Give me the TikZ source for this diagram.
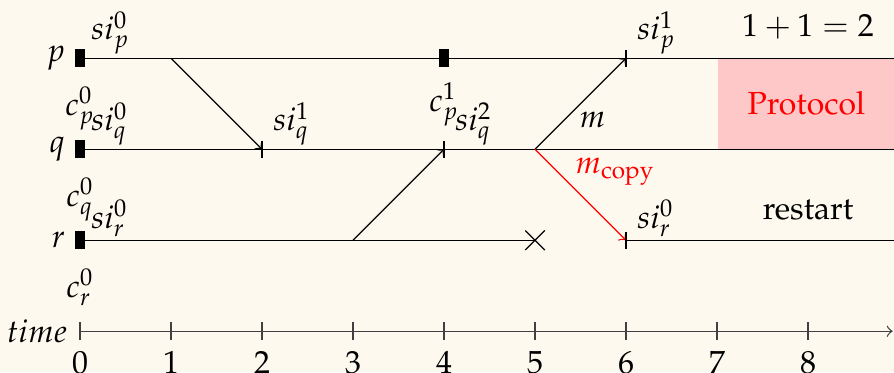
\documentclass[tikz,border=0pt]{standalone}
\usepackage[T1]{fontenc}
\usepackage{mathpazo}
\usetikzlibrary{positioning,calc,shapes.misc}
\definecolor{paper}{HTML}{FDF9EE}
\definecolor{protofill}{HTML}{FFC8C8}
\tikzset{
  ckpt/.style={rectangle,fill=black,inner sep=0pt,minimum width=0.11cm,minimum height=0.2cm},
  lbl/.style={inner sep=1pt},
  msg/.style={->,>=to},
  cpy/.style={->,>=to,red},
  tck/.style={line cap=butt},
  crash/.style={cross out,draw,inner sep=0pt,minimum size=0.2cm},
  proto/.style={rectangle,fill=protofill,text=red,inner sep=0pt,minimum width=1.95cm,minimum height=1cm,anchor=south west},
  axis/.style={black!75},
}

\begin{document}
\begin{tikzpicture}
  \fill[paper] (-0.88,-0.45) rectangle (8.945,3.64);
  \useasboundingbox (-0.88,-0.45) rectangle (8.945,3.64);

  % events on the three process lines
  \coordinate (p0) at (0,3); \coordinate (q0) at (0,2); \coordinate (r0) at (0,1);
  \coordinate (pE) at (8.95,3); \coordinate (qE) at (8.95,2); \coordinate (rE) at (8.95,1);
  \coordinate (p1) at (1,3); \coordinate (q2) at (2,2); \coordinate (r3) at (3,1);
  \coordinate (q4) at (4,2); \coordinate (q5) at (5,2); \coordinate (p6) at (6,3);
  \coordinate (r6) at (6,1);

  \node[proto] (prot) at (7,2) {Protocol};

  \draw (p0) -- (pE);
  \draw (q0) -- (qE);
  \node[crash] (crash) at (5,1) {};
  \draw (r0) -- (crash.center);
  \draw (r6) -- (rE);

  % checkpoints
  \node[ckpt] (ckp0) at (p0) {};
  \node[ckpt] (ckq0) at (q0) {};
  \node[ckpt] (ckr0) at (r0) {};
  \node[ckpt] (ckp1) at (4,3) {};

  \node[lbl,left=0.06cm of ckp0] (np) {$p$};
  \node[lbl,left=0.06cm of ckq0] (nq) {$q$};
  \node[lbl,left=0.06cm of ckr0] (nr) {$r$};

  \node[lbl,below=0.17cm of ckp0] (cp0) {$c_p^0$};
  \node[lbl,below=0.17cm of ckq0] (cq0) {$c_q^0$};
  \node[lbl,below=0.17cm of ckr0] (cr0) {$c_r^0$};
  \node[lbl,below=0.12cm of ckp1] (cp1) {$c_p^1$};

  \node[lbl,above right=0pt and 0.08cm of p0] (sp0) {$si_p^0$};
  \node[lbl,above right=0pt and 0.08cm of q0] (sq0) {$si_q^0$};
  \node[lbl,above right=0pt and 0.08cm of r0] (sr0) {$si_r^0$};
  \node[lbl,above right=0pt and 0.08cm of q2] (sq1) {$si_q^1$};
  \node[lbl,above right=0pt and 0.08cm of q4] (sq2) {$si_q^2$};
  \node[lbl,above right=0pt and 0.08cm of p6] (sp1) {$si_p^1$};
  \node[lbl,above right=0pt and 0.08cm of r6] (sr1) {$si_r^0$};

  % messages
  \draw[msg] (p1) -- (q2);
  \draw[msg] (r3) -- (q4);
  \draw[msg] (q5) -- node[pos=0.45,below right,inner sep=1pt] (lm) {$m$} (p6);
  \draw[cpy] (q5) -- node[pos=0.42,above right,inner sep=0.5pt] (lmc) {$m_{\mathrm{copy}}$} (r6);
  \foreach \e in {q2,q4,p6,r6}
    \draw[tck] ([yshift=-2.7pt]\e) -- ([yshift=2.7pt]\e);

  \node[above=0.08cm] (sum) at (8,3) {$1+1=2$};
  \node[above=0.1cm] (rst) at (8,1) {restart};

  % time axis
  \coordinate (t0) at (0,0);
  \coordinate (tE) at (8.93,0);
  \draw[axis,->,>=to] (t0) -- (tE);
  \foreach \i in {0,...,8} {
    \draw[axis] (\i,-0.1) -- (\i,0.1);
    \node[below] (n\i) at (\i,-0.1) {\i};
  }
  \node[lbl,left=0.1cm of t0] (tm) {$time$};
\end{tikzpicture}
\end{document}
